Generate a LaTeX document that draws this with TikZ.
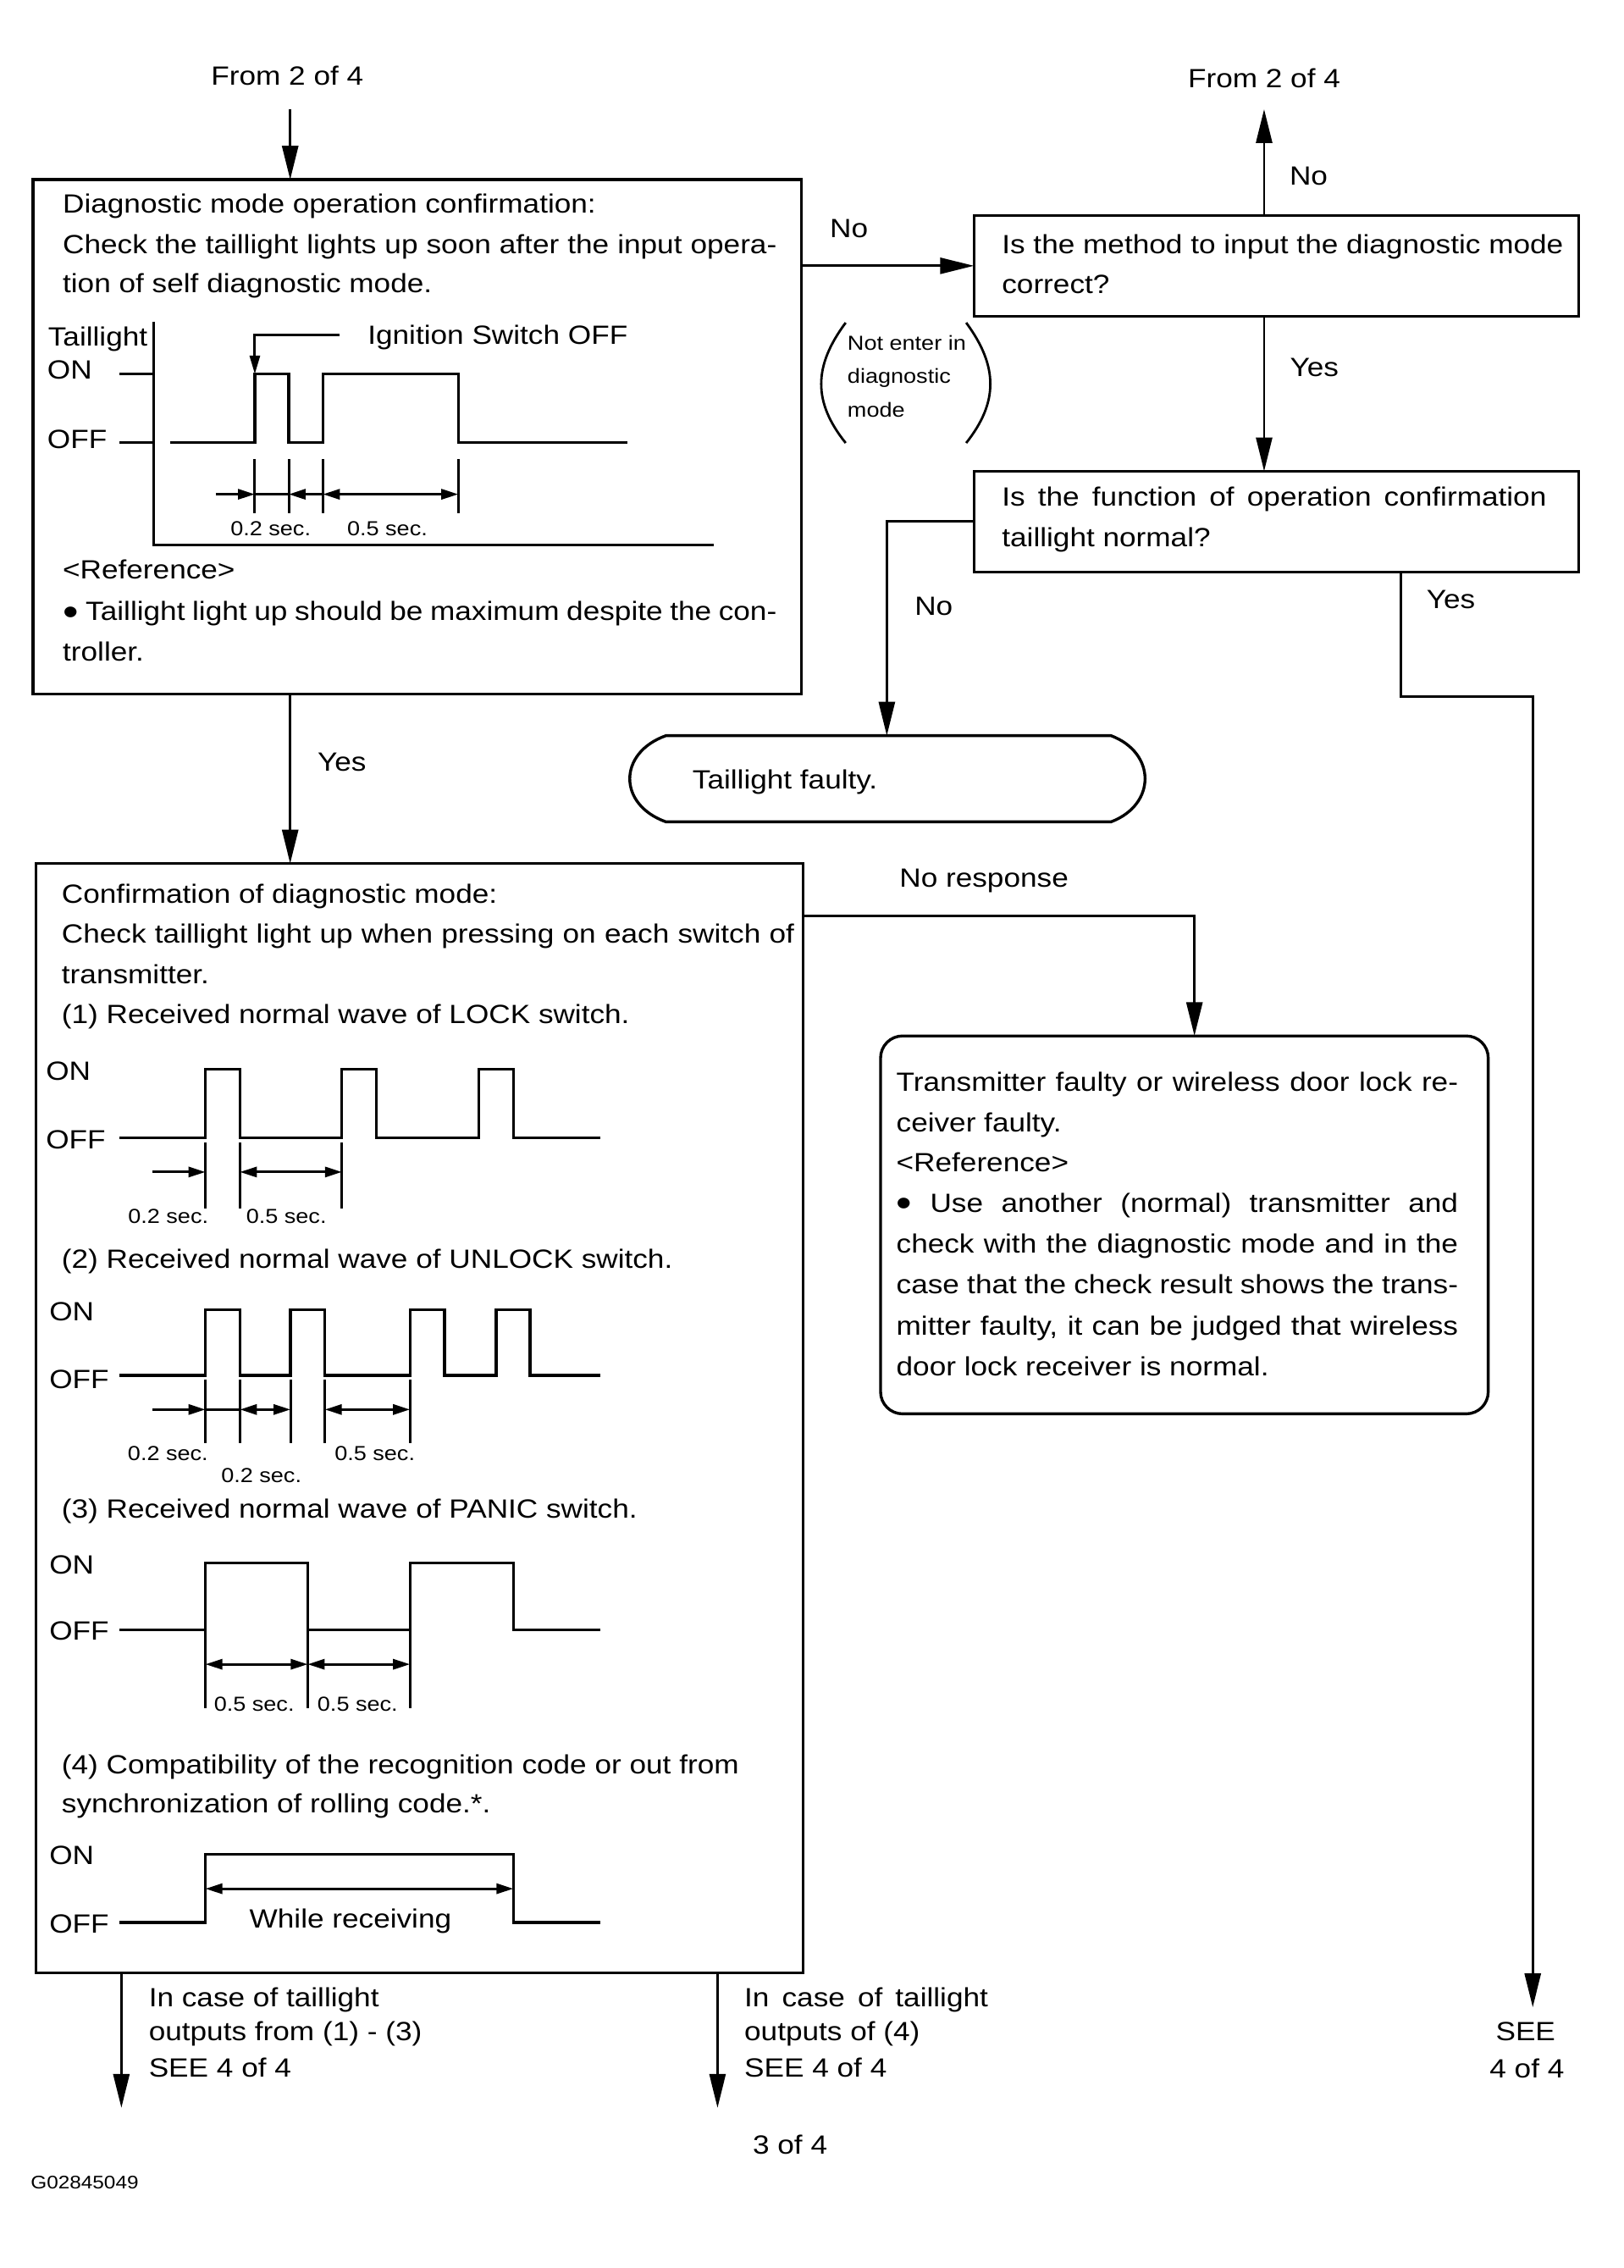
\documentclass[tikz,border=0pt]{standalone}
\usepackage{fontspec}
\setmainfont{Liberation Sans}[FakeStretch=1.13]
\usetikzlibrary{arrows.meta,fit}
\newcommand\mfont{\fontsize{15.6pt}{20pt}\selectfont}
\newcommand\sfont{\fontsize{12pt}{14pt}\selectfont}
\newcommand\gfont{\fontsize{10.8pt}{13pt}\selectfont}
\newcommand\bigdot{\raisebox{-0.17em}{\scalebox{1.5}{\textbullet}}}
\begin{document}
\begin{tikzpicture}[x=0.85pt,y=-0.85pt,
 txt/.style={inner sep=0pt,outer sep=0pt,font=\mfont,anchor=base west},
 stxt/.style={txt,font=\sfont},
 lbl/.style={inner sep=0pt,outer sep=0pt,font=\mfont,anchor=base},
 box/.style={draw,line width=1.7pt,inner sep=0pt,outer sep=0pt},
 conn/.style={line width=1.4pt},
 arr/.style={conn,-{Triangle[length=20pt,width=9.5pt]}},
 wave/.style={line width=1.6pt,line join=miter},
 dim/.style={line width=1.5pt},
 dr/.style={dim,-{Triangle[length=10pt,width=6pt]}},
 dd/.style={dim,{Triangle[length=10pt,width=6pt]}-{Triangle[length=10pt,width=6pt]}},
]
\path[use as bounding box,fill=white] (0,0) rectangle (1130,1578.5);

% boxes
\node[box,fit={(23,125) (558,483)}] (box1) {};
\node[box,fit={(678,150) (1099,220)}] (box2) {};
\node[box,fit={(678,328) (1099,398)}] (box3) {};
\node[box,fit={(25,601) (559,1373)}] (box4) {};
\node[box,rounded corners=13pt,fit={(613,721) (1036,984)}] (box5) {};
\node[inner sep=0pt,outer sep=0pt,fit={(438.2,512) (796.5,572)}] (faulty) {};
\draw[line width=1.7pt] (463.6,512) -- (773.4,512) .. controls (805,524) and (805,560) .. (773.4,572) -- (463.6,572) .. controls (430,560) and (430,524) .. (463.6,512) -- cycle;

% top texts and connectors
\node[lbl] (fromL) at (200,59.5) {From 2 of 4};
\node[lbl] (fromR) at (880,61) {From 2 of 4};
\coordinate (cL) at (202,76);
\coordinate (cR) at (880,76);
\draw[arr] (cL) -- (box1.north -| cL);
\draw[arr] (box2.north -| cR) -- (cR);
\draw[arr] (box1.east |- box2.west) -- (box2.west);
\draw[arr] (box2.south -| cR) -- (box3.north -| cR);
\draw[arr] (box3.west) -| (faulty.north);
\coordinate (yb) at (975,485);
\coordinate (seeR) at (1067,1397);
\draw[arr] (box3.south -| yb) -- (yb) -| (seeR);
\draw[arr] (box1.south -| cL) -- (box4.north -| cL);
\coordinate (nr) at (831.5,637.4);
\draw[arr] (box4.east |- nr) -- (nr) -- (box5.north -| nr);
\coordinate (bl) at (84.5,1467);
\coordinate (br) at (499.5,1467);
\draw[arr] (box4.south -| bl) -- (bl);
\draw[arr] (box4.south -| br) -- (br);

% branch labels
\node[lbl] (lNo1) at (911,129) {No};
\node[lbl] (lNo2) at (591,165.5) {No};
\node[lbl] (lYes1) at (915,262) {Yes};
\node[lbl] (lNo3) at (650,428.5) {No};
\node[lbl] (lYes2) at (1010,423.5) {Yes};
\node[lbl] (lYes3) at (238,536.5) {Yes};
\node[lbl] (lNR) at (685,617.4) {No response};

% parenthesised note
\node[stxt] (p1) at (590,243.8) {Not enter in};
\node[stxt] (p2) at (590,267) {diagnostic};
\node[stxt] (p3) at (590,290) {mode};
\draw[conn] (588.7,224.6) .. controls (566,255) and (566,280) .. (588.7,308.3);
\draw[conn] (672.6,224.6) .. controls (695,255) and (695,280) .. (672.6,308.3);

% box 1 contents
\node[txt] (b1a) at (43.7,148) {Diagnostic mode operation confirmation:};
\node[txt] (b1b) at (43.7,176.5) {\makebox[422.5pt][s]{Check the taillight lights up soon after the input opera-}};
\node[txt] (b1c) at (43.7,203.5) {tion of self diagnostic mode.};
\node[txt] (b1d) at (33.5,240.5) {Taillight};
\node[txt] (b1e) at (33,264) {ON};
\node[txt] (b1f) at (33,312) {OFF};
\node[txt] (b1g) at (256,239.5) {Ignition Switch OFF};
\node[stxt] (b1h) at (160.5,373) {0.2 sec.};
\node[stxt] (b1i) at (241.7,373) {0.5 sec.};
\node[txt] (b1j) at (43.7,403) {<Reference>};
\node[txt] (b1k) at (43.7,432) {\makebox[422.5pt][s]{\bigdot{} Taillight light up should be maximum despite the con-}};
\node[txt] (b1l) at (43.7,460) {troller.};
\draw[wave] (107,223.8) -- (107,379.5) -- (496.6,379.5);
\draw[wave] (83.3,260.4) -- (107,260.4);
\draw[wave] (83.3,307.8) -- (107,307.8);
\draw[wave] (118.2,307.8) -- (177.4,307.8) -- (177.4,260.4) -- (201,260.4) -- (201,307.8) -- (224.8,307.8) -- (224.8,260.4) -- (319,260.4) -- (319,307.8) -- (437,307.8);
\draw[dim,-{Triangle[length=11pt,width=6pt]}] (236.6,233.1) -- (177.4,233.1) -- (177.4,260.4);
\foreach \x in {177.4,201,224.8,319} \draw[dim] (\x,319.5) -- (\x,357);
\draw[dr] (150.3,344) -- (177.4,344);
\draw[dim] (177.4,344) -- (201,344);
\draw[dr] (224.8,344) -- (201,344);
\draw[dd] (224.8,344) -- (319,344);

% box 2 and 3
\node[txt] (b2a) at (697.5,176.5) {Is the method to input the diagnostic mode};
\node[txt] (b2b) at (697.5,204) {correct?};
\node[txt] (b3a) at (697.5,352) {\makebox[322.2pt][s]{Is the function of operation confirmation}};
\node[txt] (b3b) at (697.5,380.5) {taillight normal?};
\node[txt] (ft) at (482.1,549) {Taillight faulty.};

% box 4 contents
\node[txt] (b4a) at (43,628.5) {Confirmation of diagnostic mode:};
\node[txt] (b4b) at (43,656.5) {\makebox[433.5pt][s]{Check taillight light up when pressing on each switch of}};
\node[txt] (b4c) at (43,684.5) {transmitter.};
\node[txt] (b4d) at (43,712.5) {(1) Received normal wave of LOCK switch.};
\node[txt] (w1on) at (32,752) {ON};
\node[txt] (w1off) at (32,799.5) {OFF};
\draw[wave] (83,792) -- (143,792) -- (143,744.1) -- (167,744.1) -- (167,792) -- (238,792) -- (238,744.1) -- (262,744.1) -- (262,792) -- (333.4,792) -- (333.4,744.1) -- (357.4,744.1) -- (357.4,792) -- (418,792);
\foreach \x in {143,167,238} \draw[dim] (\x,795) -- (\x,841.4);
\draw[dr] (106.3,815.7) -- (143,815.7);
\draw[dd] (167,815.7) -- (238,815.7);
\node[stxt] (w1a) at (89.2,851.3) {0.2 sec.};
\node[stxt] (w1b) at (171.4,851.3) {0.5 sec.};

\node[txt] (b4e) at (43,882.5) {(2) Received normal wave of UNLOCK switch.};
\node[txt] (w2on) at (34.4,919.5) {ON};
\node[txt] (w2off) at (34.4,966.5) {OFF};
\draw[wave] (83,957.2) -- (143,957.2) -- (143,911.4) -- (167,911.4) -- (167,957.2) -- (202.2,957.2) -- (202.2,911.4) -- (226.2,911.4) -- (226.2,957.2) -- (285.4,957.2) -- (285.4,911.4) -- (309.4,911.4) -- (309.4,957.2) -- (345.4,957.2) -- (345.4,911.4) -- (369,911.4) -- (369,957.2) -- (418,957.2);
\foreach \x in {143,167,202.2,226.2,285.4} \draw[dim] (\x,960) -- (\x,1004.6);
\draw[dr] (106.3,981) -- (143,981);
\draw[dim] (143,981) -- (167,981);
\draw[dd] (167,981) -- (202.2,981);
\draw[dd] (226.2,981) -- (285.4,981);
\node[stxt] (w2a) at (89,1016.4) {0.2 sec.};
\node[stxt] (w2b) at (154,1032) {0.2 sec.};
\node[stxt] (w2c) at (233,1016.4) {0.5 sec.};

\node[txt] (b4f) at (43,1056.5) {(3) Received normal wave of PANIC switch.};
\node[txt] (w3on) at (34.4,1095.5) {ON};
\node[txt] (w3off) at (34.4,1141.5) {OFF};
\draw[wave] (83,1134.2) -- (143,1134.2) -- (143,1088) -- (214.2,1088) -- (214.2,1134.2) -- (285.4,1134.2) -- (285.4,1088) -- (357.4,1088) -- (357.4,1134.2) -- (418,1134.2);
\foreach \x in {143,214.2,285.4} \draw[dim] (\x,1134.2) -- (\x,1188.8);
\draw[dd] (143,1158.3) -- (214.2,1158.3);
\draw[dd] (214.2,1158.3) -- (285.4,1158.3);
\node[stxt] (w3a) at (149,1190.8) {0.5 sec.};
\node[stxt] (w3b) at (221,1190.8) {0.5 sec.};

\node[txt] (b4g) at (43,1234.5) {(4) Compatibility of the recognition code or out from};
\node[txt] (b4h) at (43,1261.5) {synchronization of rolling code.*.};
\node[txt] (w4on) at (34.4,1297.5) {ON};
\node[txt] (w4off) at (34.4,1345.5) {OFF};
\draw[wave] (83,1338) -- (143,1338) -- (143,1290.5) -- (357.4,1290.5) -- (357.4,1338) -- (418,1338);
\draw[dd] (143,1314.5) -- (357.4,1314.5);
\node[lbl] (w4t) at (244,1342) {While receiving};

% box 5 contents
\node[txt] (b5a) at (624,759.5) {\makebox[332.4pt][s]{Transmitter faulty or wireless door lock re-}};
\node[txt] (b5b) at (624,788) {ceiver faulty.};
\node[txt] (b5c) at (624,815.3) {<Reference>};
\node[txt] (b5d) at (624,843.8) {\makebox[332.4pt][s]{\bigdot{} Use another (normal) transmitter and}};
\node[txt] (b5e) at (624,872.2) {\makebox[332.4pt][s]{check with the diagnostic mode and in the}};
\node[txt] (b5f) at (624,900.6) {\makebox[332.4pt][s]{case that the check result shows the trans-}};
\node[txt] (b5g) at (624,929) {\makebox[332.4pt][s]{mitter faulty, it can be judged that wireless}};
\node[txt] (b5h) at (624,957.4) {door lock receiver is normal.};

% bottom texts
\node[txt] (bt1) at (103.6,1396.5) {In case of taillight};
\node[txt] (bt2) at (103.6,1420.5) {outputs from (1) - (3)};
\node[txt] (bt3) at (103.6,1445.5) {SEE 4 of 4};
\node[txt] (bt4) at (518.2,1396.5) {\makebox[144.2pt][s]{In case of taillight}};
\node[txt] (bt5) at (518.2,1420.5) {outputs of (4)};
\node[txt] (bt6) at (518.2,1445.5) {SEE 4 of 4};
\node[lbl] (see1) at (1062,1420.5) {SEE};
\node[lbl] (see2) at (1063,1446) {4 of 4};
\node[lbl] (pg) at (550,1499) {3 of 4};
\node[txt,font=\gfont] (gid) at (21.4,1523.5) {G02845049};
\end{tikzpicture}
\end{document}
